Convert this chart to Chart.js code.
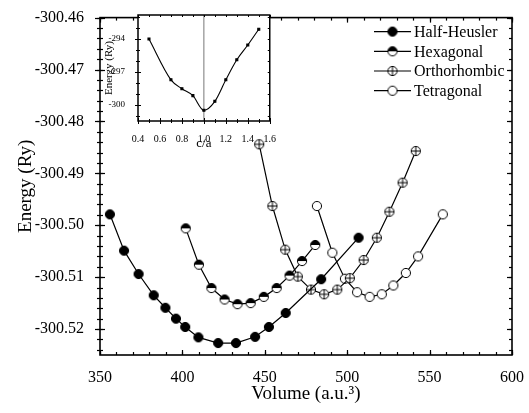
<!DOCTYPE html>
<html><head><meta charset="utf-8">
<script src="https://cdn.jsdelivr.net/npm/chart.js@4"></script>
<style>
html,body{margin:0;padding:0;background:#fff;}
#wrap{position:relative;width:529px;height:413px;overflow:hidden;}
#main{position:absolute;left:0;top:0;}
#inset{position:absolute;left:95px;top:0;}
</style></head><body>
<div id="wrap"><canvas id="main" width="529" height="413"></canvas><canvas id="inset" width="185" height="152"></canvas></div>
<script>
// ---------- data ----------
const seriesNames = ['Half-Heusler', 'Hexagonal', 'Orthorhombic', 'Tetragonal'];

const hhVolume = [356, 364.6, 373.4, 382.6, 389.7, 396.1, 401.7, 409.7, 421.7, 432.5, 444.1, 452.5, 462.7, 484.2, 506.9];
const hhEnergy = [-300.4979, -300.5049, -300.5094, -300.5135, -300.5159, -300.5180, -300.5196, -300.5216, -300.5227, -300.5227, -300.5215, -300.5196, -300.5169, -300.5104, -300.5024];

const hexVolume = [402, 410, 417.6, 425.6, 433.4, 441.4, 449.4, 457.2, 465, 472.6, 480.6];
const hexEnergy = [-300.5006, -300.5076, -300.5121, -300.5143, -300.5152, -300.5150, -300.5138, -300.5121, -300.5097, -300.5069, -300.5038];

const orthoVolume = [446.6, 454.6, 462.4, 470, 478, 486, 494, 501.6, 510, 518, 525.6, 533.6, 541.6];
const orthoEnergy = [-300.4844, -300.4963, -300.5047, -300.5099, -300.5124, -300.5133, -300.5124, -300.5102, -300.5067, -300.5024, -300.4974, -300.4918, -300.4857];

const tetraVolume = [481.6, 491, 498.6, 506, 513.6, 521, 528, 535.6, 543, 558];
const tetraEnergy = [-300.4963, -300.5053, -300.5103, -300.5129, -300.5138, -300.5133, -300.5116, -300.5092, -300.5060, -300.4979];

const xTickValues = [350, 400, 450, 500, 550, 600];
const yTickValues = [-300.52, -300.51, -300.50, -300.49, -300.48, -300.47, -300.46];

// inset: energy versus c/a
const insetRatio  = [0.5, 0.7, 0.8, 0.9, 1.0, 1.1, 1.2, 1.3, 1.4, 1.5];
const insetEnergy = [-294.0, -297.73, -298.55, -299.18, -300.52, -299.7, -297.73, -295.9, -294.55, -293.1];
const insetXTicks = [0.4, 0.6, 0.8, 1.0, 1.2, 1.4, 1.6];
const insetYTicks = [-300, -297, -294];
const insetRefRatio = 1.0;

// ---------- styling ----------
const FONT = "'Liberation Serif','Times New Roman',serif";
Chart.defaults.font.family = FONT;
Chart.defaults.color = '#000';

function marker(kind) {
  const c = document.createElement('canvas');
  c.width = 12; c.height = 12;
  const g = c.getContext('2d');
  const r = 4.6, cx = 6, cy = 6;
  g.lineWidth = 1; g.strokeStyle = '#000';
  g.beginPath(); g.arc(cx, cy, r, 0, Math.PI * 2);
  g.fillStyle = kind === 'filled' ? '#000' : '#fff'; g.fill();
  if (kind === 'half') {
    g.beginPath(); g.arc(cx, cy, r, Math.PI, 2 * Math.PI); g.closePath();
    g.fillStyle = '#000'; g.fill();
  }
  if (kind === 'cross') {
    g.beginPath();
    g.moveTo(cx - r, cy); g.lineTo(cx + r, cy);
    g.moveTo(cx, cy - r); g.lineTo(cx, cy + r);
    g.stroke();
  }
  g.beginPath(); g.arc(cx, cy, r, 0, Math.PI * 2); g.stroke();
  return c;
}
const markerKinds = ['filled', 'half', 'cross', 'open'];
const seriesX = [hhVolume, hexVolume, orthoVolume, tetraVolume];
const seriesY = [hhEnergy, hexEnergy, orthoEnergy, tetraEnergy];

const datasets = seriesNames.map((name, k) => ({
  label: name,
  data: seriesX[k].map((x, i) => ({ x: x, y: seriesY[k][i] })),
  borderColor: '#000',
  borderWidth: 1.2,
  pointStyle: marker(markerKinds[k]),
  pointRadius: 5,
  pointHoverRadius: 5,
  tension: 0,
  fill: false
}));

function drawTicks(ctx, scale, values, len, side, area, both) {
  values.forEach(v => {
    const p = Math.round(scale.getPixelForValue(v)) + 0.5;
    ctx.beginPath();
    if (side === 'left' || side === 'right') {
      const x = side === 'left' ? area.left : area.right;
      const dir = side === 'left' ? 1 : -1;
      ctx.moveTo(x - (both ? dir * len : 0), p); ctx.lineTo(x + dir * len, p);
    } else {
      const y = side === 'bottom' ? area.bottom : area.top;
      const dir = side === 'bottom' ? -1 : 1;
      ctx.moveTo(p, y - (both ? dir * len : 0)); ctx.lineTo(p, y + dir * len);
    }
    ctx.stroke();
  });
}
function minorValues(min, max, step) {
  const out = [];
  const s = Math.ceil(min / step - 1e-6), e = Math.floor(max / step + 1e-6);
  for (let k = s; k <= e; k++) out.push(k * step);
  return out;
}

const framePlugin = {
  id: 'frame',
  afterDatasetsDraw(chart, args, opts) {
    const ctx = chart.ctx, a = chart.chartArea;
    const xs = chart.scales.x, ys = chart.scales.y;
    ctx.save();
    ctx.strokeStyle = opts.color; ctx.lineWidth = opts.tickWidth;
    const xMin = minorValues(xs.min, xs.max, opts.xMinor);
    const yMin = minorValues(ys.min, ys.max, opts.yMinor);
    const xMaj = xs.ticks.map(t => t.value), yMaj = ys.ticks.map(t => t.value);
    drawTicks(ctx, xs, xMin, opts.minorLen, 'bottom', a, false);
    drawTicks(ctx, xs, xMaj, opts.majorLen, 'bottom', a, false);
    drawTicks(ctx, xs, xMin, opts.minorLen, 'top', a, false);
    drawTicks(ctx, xs, xMaj, opts.majorLen, 'top', a, false);
    drawTicks(ctx, ys, yMin, opts.minorLen, 'left', a, true);
    drawTicks(ctx, ys, yMaj, opts.majorLen, 'left', a, true);
    drawTicks(ctx, ys, yMin, opts.minorLen, 'right', a, false);
    drawTicks(ctx, ys, yMaj, opts.majorLen, 'right', a, false);
    ctx.lineWidth = opts.frameWidth;
    ctx.strokeRect(a.left, a.top, a.right - a.left, a.bottom - a.top);
    ctx.restore();
  }
};

const legendPlugin = {
  id: 'boxLegend',
  afterDraw(chart, args, opts) {
    const ctx = chart.ctx, a = chart.chartArea;
    ctx.save();
    ctx.font = opts.fontSize + 'px ' + FONT;
    ctx.textBaseline = 'middle'; ctx.textAlign = 'left'; ctx.fillStyle = '#000';
    chart.data.datasets.forEach((ds, i) => {
      const y = a.top + opts.top + i * opts.rowGap;
      const x0 = a.right - opts.fromRight;
      ctx.strokeStyle = '#000'; ctx.lineWidth = 1.2;
      ctx.beginPath(); ctx.moveTo(x0, y); ctx.lineTo(x0 + opts.lineLen, y); ctx.stroke();
      const img = ds.pointStyle;
      ctx.drawImage(img, x0 + opts.lineLen / 2 - img.width / 2, y - img.height / 2);
      ctx.fillText(ds.label, x0 + opts.lineLen + 3, y + 1);
    });
    ctx.restore();
  }
};

new Chart(document.getElementById('main'), {
  type: 'line',
  data: { datasets: datasets },
  plugins: [framePlugin, legendPlugin],
  options: {
    responsive: false, animation: false, devicePixelRatio: 1,
    layout: { padding: { top: 15, right: 13, left: 0, bottom: 0 } },
    plugins: {
      legend: { display: false }, tooltip: { enabled: false },
      frame: { color: '#000', tickWidth: 1.2, frameWidth: 1.6, majorLen: 5, minorLen: 3, xMinor: 10, yMinor: 0.002 },
      boxLegend: { top: 14, rowGap: 19.7, fromRight: 138, lineLen: 37, fontSize: 16 }
    },
    scales: {
      x: {
        type: 'linear', min: 350, max: 600,
        afterBuildTicks: s => { s.ticks = xTickValues.map(v => ({ value: v })); },
        afterFit: s => { s.height = 58; },
        grid: { display: false }, border: { display: false },
        ticks: { font: { family: FONT, size: 16 }, color: '#000', padding: 5, maxRotation: 0, autoSkip: false, callback: v => String(v) },
        title: { display: true, text: 'Volume (a.u.³)', font: { family: FONT, size: 19 }, color: '#000', padding: { top: 0, bottom: 8 } }
      },
      y: {
        type: 'linear', min: -300.525, max: -300.46,
        afterBuildTicks: s => { s.ticks = yTickValues.map(v => ({ value: v })); },
        afterFit: s => { s.width = 100; },
        grid: { display: false }, border: { display: false },
        ticks: { font: { family: FONT, size: 16 }, color: '#000', padding: 8, autoSkip: false, callback: v => v.toFixed(2) },
        title: { display: true, text: 'Energy (Ry)', font: { family: FONT, size: 19 }, color: '#000', padding: { top: 15, bottom: 0 } }
      }
    }
  }
});

// ---------- inset ----------
const insetPlugin = {
  id: 'insetFrame',
  beforeDatasetsDraw(chart) {
    const ctx = chart.ctx, a = chart.chartArea;
    ctx.save();
    ctx.fillStyle = '#fff';
    ctx.fillRect(a.left, a.top, a.right - a.left, a.bottom - a.top);
    const px = chart.scales.x.getPixelForValue(insetRefRatio);
    ctx.strokeStyle = '#777'; ctx.lineWidth = 1;
    ctx.beginPath(); ctx.moveTo(px, a.top); ctx.lineTo(px, a.bottom); ctx.stroke();
    ctx.restore();
  },
  afterDatasetsDraw(chart) {
    const ctx = chart.ctx, a = chart.chartArea;
    const xs = chart.scales.x, ys = chart.scales.y;
    ctx.save();
    ctx.strokeStyle = '#000'; ctx.lineWidth = 1;
    const xMin = minorValues(xs.min, xs.max, 0.1);
    const yMin = minorValues(ys.min, ys.max, 1);
    const xMaj = xs.ticks.map(t => t.value), yMaj = ys.ticks.map(t => t.value);
    drawTicks(ctx, xs, xMin, 2, 'bottom', a, true);
    drawTicks(ctx, xs, xMaj, 3, 'bottom', a, true);
    drawTicks(ctx, xs, xMin, 2, 'top', a, false);
    drawTicks(ctx, ys, yMin, 2, 'left', a, true);
    drawTicks(ctx, ys, yMaj, 3, 'left', a, true);
    drawTicks(ctx, ys, yMin, 2, 'right', a, false);
    ctx.lineWidth = 1.5;
    ctx.strokeRect(a.left, a.top, a.right - a.left, a.bottom - a.top);
    ctx.restore();
  }
};

new Chart(document.getElementById('inset'), {
  type: 'line',
  data: {
    datasets: [{
      data: insetRatio.map((r, i) => ({ x: r, y: insetEnergy[i] })),
      borderColor: '#000', backgroundColor: '#000', borderWidth: 1.1,
      pointStyle: 'rect', pointRadius: 1.4, pointHoverRadius: 1.4,
      cubicInterpolationMode: 'monotone', fill: false
    }]
  },
  plugins: [insetPlugin],
  options: {
    responsive: false, animation: false, devicePixelRatio: 1,
    layout: { padding: { top: 15, right: 8, left: 0, bottom: 0 } },
    plugins: { legend: { display: false }, tooltip: { enabled: false } },
    scales: {
      x: {
        type: 'linear', min: 0.4, max: 1.6,
        afterBuildTicks: s => { s.ticks = insetXTicks.map(v => ({ value: v })); },
        afterFit: s => { s.height = 31; },
        grid: { display: false }, border: { display: false },
        ticks: { font: { family: FONT, size: 10 }, color: '#000', padding: 4, maxRotation: 0, autoSkip: false, callback: v => v.toFixed(1) },
        title: { display: true, text: 'c/a', font: { family: FONT, size: 13 }, color: '#000', padding: { top: 0, bottom: 1 } }
      },
      y: {
        type: 'linear', min: -301.5, max: -291.8,
        afterBuildTicks: s => { s.ticks = insetYTicks.map(v => ({ value: v })); },
        afterFit: s => { s.width = 43; },
        grid: { display: false }, border: { display: false },
        ticks: { font: { family: FONT, size: 9 }, color: '#000', padding: 5, autoSkip: false, callback: v => String(v) },
        title: { display: true, text: 'Energy (Ry)', font: { family: FONT, size: 11 }, color: '#000', padding: { top: 8, bottom: 0 } }
      }
    }
  }
});
</script>
</body></html>
